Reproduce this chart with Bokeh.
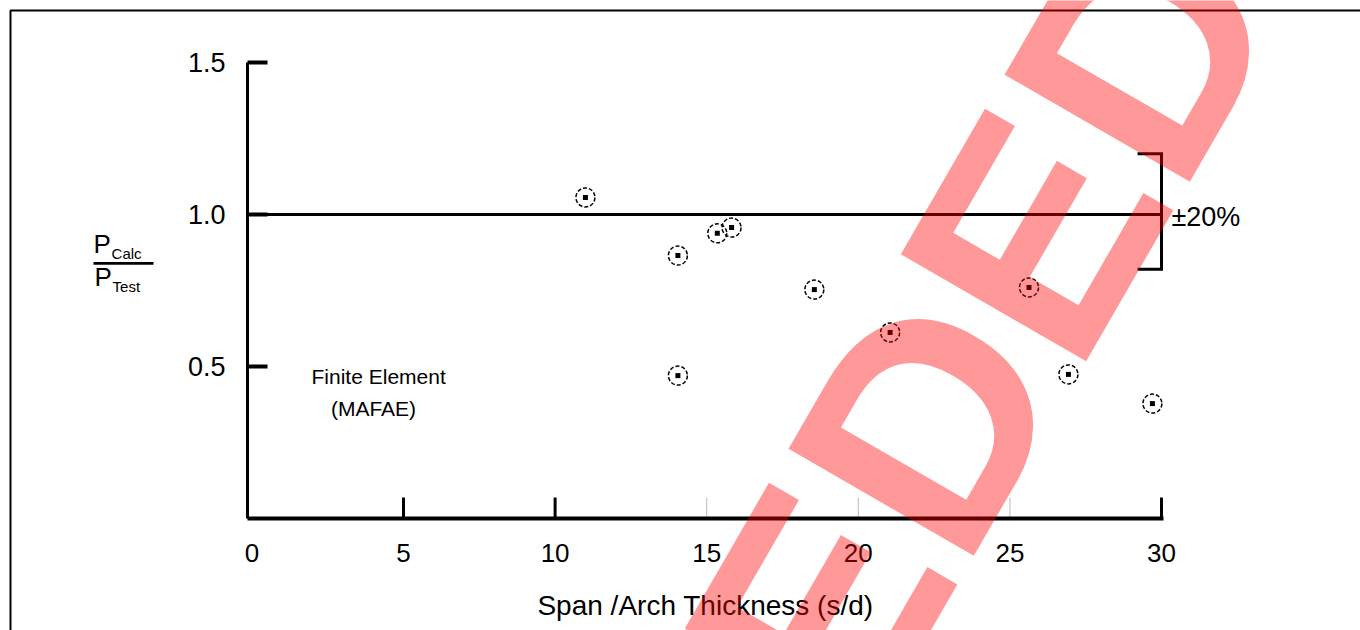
from bokeh.plotting import figure
from bokeh.models import Range1d, FixedTicker, Label, BoxAnnotation, NumeralTickFormatter
from bokeh.embed import file_html
from bokeh.resources import INLINE

# ---- data ----
span_ratio = [11.0, 14.05, 14.05, 15.35, 15.82, 18.55, 21.05, 25.63, 26.93, 29.70]
p_ratio = [1.056, 0.865, 0.470, 0.938, 0.957, 0.753, 0.612, 0.760, 0.474, 0.378]

x_ticks = [0, 5, 10, 15, 20, 25, 30]
x_ticks_dark = [5, 10, 30]
x_ticks_light = [15, 20, 25]
y_ticks = [0.5, 1.0, 1.5]

ref_ratio = 1.0
band_low = 0.82
band_high = 1.20
band_x = 30

FONT = "Liberation Sans"

# the frame covers the whole canvas; axes are drawn at fixed data locations
p = figure(width=1360, height=630,
           x_range=Range1d(-8.2916, 36.563), y_range=Range1d(-0.36842, 1.70395),
           output_backend="svg", toolbar_location=None, title=None,
           min_border_left=0, min_border_right=0,
           min_border_top=0, min_border_bottom=0)
p.xgrid.visible = False
p.ygrid.visible = False
p.outline_line_color = None
p.background_fill_color = "white"
p.border_fill_color = "white"

# x axis
xa = p.xaxis[0]
xa.fixed_location = 0
xa.bounds = (-0.145, 30.05)
xa.ticker = FixedTicker(ticks=x_ticks)
xa.major_tick_line_color = None
xa.minor_tick_line_color = None
xa.axis_line_width = 4
xa.axis_line_color = "black"
xa.major_label_text_font = FONT
xa.major_label_text_font_size = "26px"
xa.major_label_text_color = "black"
xa.major_label_standoff = 19
xa.axis_label = "Span /Arch Thickness (s/d)"
xa.axis_label_text_font = FONT
xa.axis_label_text_font_size = "28px"
xa.axis_label_text_font_style = "normal"
xa.axis_label_text_color = "black"
xa.axis_label_standoff = 25

# y axis
ya = p.yaxis[0]
ya.fixed_location = -0.145
ya.bounds = (0, 1.5)
ya.ticker = FixedTicker(ticks=y_ticks)
ya.formatter = NumeralTickFormatter(format="0.0")
ya.major_tick_in = 20
ya.major_tick_out = 0
ya.major_tick_line_width = 4
ya.major_tick_line_color = "black"
ya.minor_tick_line_color = None
ya.axis_line_width = 3
ya.axis_line_color = "black"
ya.major_label_text_font = FONT
ya.major_label_text_font_size = "27px"
ya.major_label_text_color = "black"
ya.major_label_standoff = 22

# inward x ticks
tick_len = 0.069
p.segment(x0=x_ticks_dark, y0=[0] * len(x_ticks_dark), x1=x_ticks_dark,
          y1=[tick_len] * len(x_ticks_dark), line_width=3, line_color="black")
p.segment(x0=x_ticks_light, y0=[0] * len(x_ticks_light), x1=x_ticks_light,
          y1=[tick_len] * len(x_ticks_light), line_width=1, line_color="#bbbbbb")

# reference line at 1.0
p.line(x=[-0.145, band_x], y=[ref_ratio, ref_ratio], line_color="black", line_width=3)

# ±20% bracket
arm = 0.79
p.line(x=[band_x - arm, band_x, band_x, band_x - arm],
       y=[band_high, band_high, band_low, band_low],
       line_width=3, line_color="black", line_join="miter")
p.add_layout(Label(x=band_x, y=ref_ratio, x_offset=10, y_offset=-2, text="±20%",
                   text_font=FONT, text_font_size="27px", text_baseline="middle",
                   text_color="black"))

# points
p.scatter(span_ratio, p_ratio, marker="circle", size=19, fill_color=None,
          line_color="black", line_width=1.5, line_dash="4 2")
p.scatter(span_ratio, p_ratio, marker="square", size=5, fill_color="black",
          line_color=None)


def label(x, y, text, size, **kw):
    p.add_layout(Label(x=x, y=y, text=text, text_font=FONT, text_font_size=f"{size}px",
                       text_color="black", **kw))


label(4.18, 0.467, "Finite Element", 21, text_align="center", text_baseline="middle")
label(4.01, 0.362, "(MAFAE)", 21, text_align="center", text_baseline="middle")

# y label as a fraction (baseline correction of 0.376 * font size)
label(-5.224, 0.8717, "P", 26, text_baseline="alphabetic", y_offset=0.376 * 26)
label(-4.627, 0.852, "Calc", 15, text_baseline="alphabetic", y_offset=0.376 * 15)
label(-5.191, 0.7632, "P", 26, text_baseline="alphabetic", y_offset=0.376 * 26)
label(-4.594, 0.7434, "Test", 15, text_baseline="alphabetic", y_offset=0.376 * 15)
p.add_layout(BoxAnnotation(left=-5.224, right=-3.245, top=0.84375, bottom=0.83454,
                           fill_color="black", fill_alpha=1.0, line_color=None))

# outer border
p.add_layout(BoxAnnotation(left=-7.962, right=50, top=1.6711, bottom=-1,
                           fill_alpha=0, line_color="black", line_alpha=1.0,
                           line_width=2))

# watermark
p.add_layout(Label(x=16.962, y=-0.5954, text="EDED", angle=60, angle_units="deg",
                   text_font=FONT, text_font_style="bold", text_font_size="311px",
                   text_align="left", text_baseline="alphabetic",
                   text_color="#ff0000", text_alpha=0.4))

open("out.html", "w").write(file_html(p, INLINE))
